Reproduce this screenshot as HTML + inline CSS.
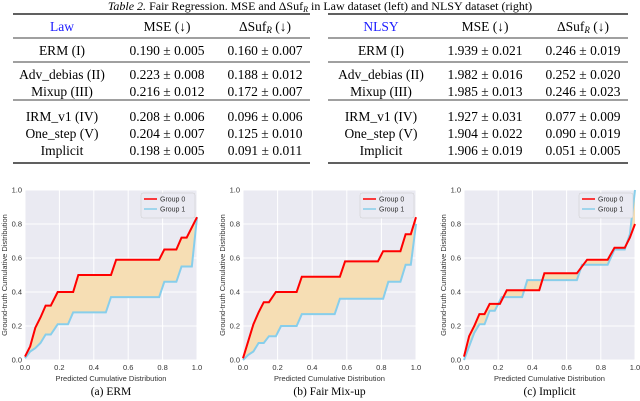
<!DOCTYPE html>
<html><head><meta charset="utf-8">
<style>
body{margin:0;background:#fff;width:640px;height:401px;overflow:hidden;font-family:"Liberation Serif",serif;}
svg{position:absolute;left:0;top:0}
</style></head><body>
<svg id="s" width="640" height="401" xmlns="http://www.w3.org/2000/svg">
<g>
<text x="320" y="10" text-anchor="middle" font-size="12" font-family="Liberation Serif"><tspan font-style="italic">Table 2.</tspan> Fair Regression. MSE and ΔSuf<tspan font-style="italic" font-size="8" dy="2">R</tspan><tspan dy="-2"> in Law dataset (left) and NLSY dataset (right)</tspan></text>
</g>
<g id="tables"></g>
<g id="charts"></g>
</svg>
<script>
const tableCols=[["Law","MSE (↓)","ΔSuf_R (↓)"],["NLSY","MSE (↓)","ΔSuf_R (↓)"]];
const rowNames=["ERM (I)","Adv_debias (II)","Mixup (III)","IRM_v1 (IV)","One_step (V)","Implicit"];
const lawMSE=["0.190 ± 0.005","0.223 ± 0.008","0.216 ± 0.012","0.208 ± 0.006","0.204 ± 0.007","0.198 ± 0.005"];
const lawSuf=["0.160 ± 0.007","0.188 ± 0.012","0.172 ± 0.007","0.096 ± 0.006","0.125 ± 0.010","0.091 ± 0.011"];
const nlsyMSE=["1.939 ± 0.021","1.982 ± 0.016","1.985 ± 0.013","1.927 ± 0.031","1.904 ± 0.022","1.906 ± 0.019"];
const nlsySuf=["0.246 ± 0.019","0.252 ± 0.020","0.246 ± 0.023","0.077 ± 0.009","0.090 ± 0.019","0.051 ± 0.005"];

const ermG0X=[0,0.03,0.06,0.09,0.12,0.15,0.19,0.28,0.31,0.50,0.53,0.78,0.81,0.88,0.91,0.94,1.0];
const ermG0Y=[0.02,0.08,0.19,0.25,0.32,0.32,0.40,0.40,0.50,0.50,0.59,0.59,0.65,0.65,0.72,0.72,0.84];
const ermG1X=[0,0.03,0.06,0.09,0.12,0.15,0.19,0.25,0.28,0.47,0.50,0.78,0.81,0.88,0.91,0.97,1.0];
const ermG1Y=[0.01,0.05,0.07,0.10,0.15,0.15,0.21,0.21,0.28,0.28,0.37,0.37,0.46,0.46,0.55,0.55,0.84];
const mixG0X=[0,0.03,0.06,0.09,0.12,0.15,0.19,0.31,0.34,0.56,0.59,0.78,0.81,0.91,0.94,0.97,1.0];
const mixG0Y=[0.01,0.11,0.21,0.28,0.34,0.34,0.40,0.40,0.49,0.49,0.58,0.58,0.64,0.64,0.74,0.74,0.84];
const mixG1X=[0,0.03,0.06,0.09,0.12,0.15,0.19,0.22,0.31,0.34,0.53,0.56,0.81,0.84,0.91,0.94,0.97,1.0];
const mixG1Y=[0,0.03,0.05,0.10,0.10,0.14,0.14,0.20,0.20,0.27,0.27,0.36,0.36,0.46,0.46,0.56,0.56,0.80];
const impG0X=[0,0.03,0.06,0.09,0.12,0.15,0.21,0.25,0.44,0.47,0.66,0.72,0.84,0.88,0.94,0.97,1.0];
const impG0Y=[0.02,0.14,0.20,0.27,0.27,0.33,0.33,0.41,0.41,0.51,0.51,0.59,0.59,0.66,0.66,0.72,0.80];
const impG1X=[0,0.03,0.06,0.09,0.12,0.15,0.18,0.22,0.34,0.37,0.66,0.69,0.84,0.88,0.94,0.97,1.0];
const impG1Y=[0,0.08,0.16,0.21,0.21,0.29,0.29,0.37,0.37,0.47,0.47,0.56,0.56,0.65,0.65,0.74,1.0];
const tickVals=[0,0.2,0.4,0.6,0.8,1.0];
const tickLabels=["0.0","0.2","0.4","0.6","0.8","1.0"];
const captions=["(a)  ERM","(b)  Fair Mix-up","(c)  Implicit"];

const NS="http://www.w3.org/2000/svg";
function mk(tag,attrs,parent,txt){const e=document.createElementNS(NS,tag);for(const k in attrs)e.setAttribute(k,attrs[k]);if(txt!==undefined)e.textContent=txt;parent.appendChild(e);return e;}

// Tables
const tg=document.getElementById('tables');
const tabs=[{x0:13,x1:310,cx:[62,167,265],cols:tableCols[0],mse:lawMSE,suf:lawSuf,name:'law-table'},
            {x0:328,x1:628,cx:[381,485,583],cols:tableCols[1],mse:nlsyMSE,suf:nlsySuf,name:'nlsy-table'}];
const rowY=[55,79,96,121,138,155];
tabs.forEach(t=>{
  const g=mk('g',{},tg);
  
  
  [[14,1.2],[38,0.7],[62,0.7],[100,0.7],[163,1.2]].forEach(r=>{
    const l=mk('line',{x1:t.x0,x2:t.x1,y1:r[0],y2:r[0],stroke:'#000','stroke-width':r[1]},g);
    
    
  });
  t.cols.forEach((c,i)=>{
    const tx=mk('text',{x:t.cx[i],y:31,'text-anchor':'middle','font-size':13.5,fill:i==0?'#1a1aff':'#000'},g);
    
    
    if(c.indexOf('_R')>=0){tx.textContent='ΔSuf';mk('tspan',{'font-size':9,'font-style':'italic',dy:2},tx,'R');mk('tspan',{dy:-2},tx,' (↓)');}
    else tx.textContent=c;
  });
  rowNames.forEach((n,i)=>{
    [n,t.mse[i],t.suf[i]].forEach((v,j)=>{
      const tx=mk('text',{x:t.cx[j],y:rowY[i],'text-anchor':'middle','font-size':13.5},g,v);
      
      
    });
  });
});

// Charts
const cg=document.getElementById('charts');
const charts=[{x0:25,x1:197,g0x:ermG0X,g0y:ermG0Y,g1x:ermG1X,g1y:ermG1Y,name:'erm-chart'},
              {x0:243,x1:416,g0x:mixG0X,g0y:mixG0Y,g1x:mixG1X,g1y:mixG1Y,name:'fair-mixup-chart'},
              {x0:464,x1:635,g0x:impG0X,g0y:impG0Y,g1x:impG1X,g1y:impG1Y,name:'implicit-chart'}];
const Y0=360,Y1=190;
charts.forEach((c,ci)=>{
  const sx=v=>c.x0+v*(c.x1-c.x0), sy=v=>Y0+v*(Y1-Y0);
  const g=mk('g',{},cg);
  
  
  const bg=mk('rect',{x:c.x0,y:Y1,width:c.x1-c.x0,height:Y0-Y1,fill:'#eaeaf2'},g);
  
  
  tickVals.forEach((v,i)=>{
    const gx=mk('line',{x1:sx(v),x2:sx(v),y1:Y1,y2:Y0,stroke:'#fff','stroke-width':1},g);
    
    
    const gy=mk('line',{x1:c.x0,x2:c.x1,y1:sy(v),y2:sy(v),stroke:'#fff','stroke-width':1},g);
    
    
    const xt=mk('text',{x:sx(v),y:Y0+10,'text-anchor':'middle','font-size':7.5,fill:'#333','font-family':'Liberation Sans'},g,tickLabels[i]);
    
    
    const yt=mk('text',{x:c.x0-3,y:sy(v)+2.6,'text-anchor':'end','font-size':7.5,fill:'#333','font-family':'Liberation Sans'},g,tickLabels[i]);
    
    
  });
  const p0=c.g0x.map((x,i)=>sx(x)+','+sy(c.g0y[i]));
  const p1=c.g1x.map((x,i)=>sx(x)+','+sy(c.g1y[i]));
  const fill=mk('polygon',{points:p0.concat(p1.slice().reverse()).join(' '),fill:'#f6deb4'},g);
  
  
  const l1=mk('polyline',{points:p1.join(' '),fill:'none',stroke:'#87ceeb','stroke-width':2},g);
  
  
  const l0=mk('polyline',{points:p0.join(' '),fill:'none',stroke:'#ff0000','stroke-width':2},g);
  
  
  const lg=mk('g',{},g);
  
  
  const lx=c.x1-56;
  mk('rect',{x:lx,y:193,width:54,height:25,fill:'#eaeaf2',stroke:'#ccc','stroke-width':0.5,rx:2},lg);
  mk('line',{x1:lx+3,x2:lx+16,y1:199,y2:199,stroke:'#ff0000','stroke-width':1.5},lg);
  mk('line',{x1:lx+3,x2:lx+16,y1:209,y2:209,stroke:'#87ceeb','stroke-width':1.5},lg);
  const t0=mk('text',{x:lx+19,y:201.5,'font-size':7,fill:'#333','font-family':'Liberation Sans'},lg,'Group 0');
  
  
  const t1=mk('text',{x:lx+19,y:211.5,'font-size':7,fill:'#333','font-family':'Liberation Sans'},lg,'Group 1');
  
  
  const xl=mk('text',{x:(c.x0+c.x1)/2,y:Y0+21,'text-anchor':'middle','font-size':7.5,fill:'#333','font-family':'Liberation Sans'},g,'Predicted Cumulative Distribution');
  
  
  const yl=mk('text',{x:0,y:0,'text-anchor':'middle','font-size':7.5,fill:'#333','font-family':'Liberation Sans',transform:`translate(${c.x0-18},${(Y0+Y1)/2}) rotate(-90)`},g,'Ground-truth Cumulative Distribution');
  
  
  const cap=mk('text',{x:(c.x0+c.x1)/2,y:395,'text-anchor':'middle','font-size':11.5,fill:'#000','font-family':'Liberation Serif'},g,captions[ci]);
  
  
});
</script>
</body></html>
